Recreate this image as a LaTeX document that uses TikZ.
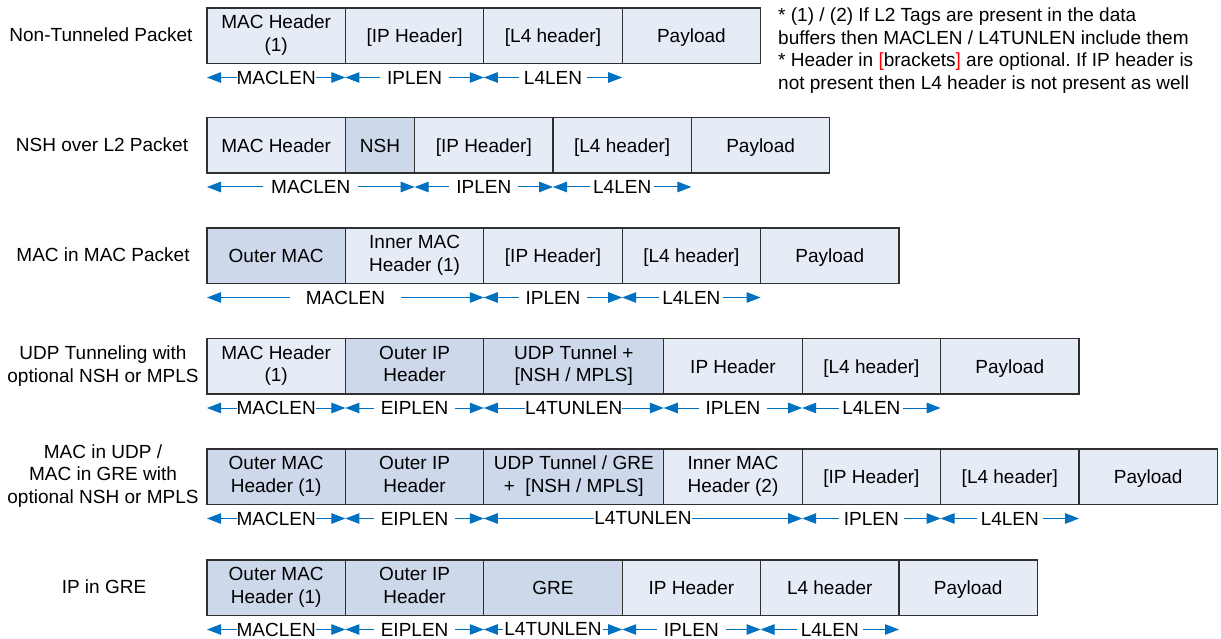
\documentclass[tikz,border=0pt]{standalone}
\usepackage{fontspec}
\setmainfont{Liberation Sans}
\usetikzlibrary{arrows.meta}
\definecolor{boxline}{HTML}{303030}
\definecolor{lightfill}{HTML}{E6ECF6}
\definecolor{darkfill}{HTML}{CDD8EB}
\definecolor{arrowblue}{HTML}{0070C0}
\definecolor{brk}{HTML}{FF0000}
\newcommand{\topstrut}{\rule{0pt}{18.5pt}}
\newcommand{\botstrut}{\rule[-4.9pt]{0pt}{0pt}}
\tikzset{
  pbox/.style={draw=boxline, line width=1.1pt, fill=lightfill, minimum height=55.5pt,
    inner sep=0pt, outer sep=0pt, align=center, anchor=north west,
    execute at begin node=\topstrut, execute at end node=\botstrut},
  dbox/.style={pbox, fill=darkfill},
  wstd/.style={minimum width=138.4pt},
  whalf/.style={minimum width=69.2pt},
  wwide/.style={minimum width=180pt},
  lenarr/.style={draw=arrowblue, line width=1pt, <->},
  lenlab/.style={fill=white, inner xsep=3pt, inner ysep=1pt, text=black},
  rowlab/.style={align=center},
}
\begin{document}
\frenchspacing
\begin{tikzpicture}[x=1pt,y=-1pt,
  >={Triangle[length=14pt,width=10.5pt]},
  every node/.style={font=\fontsize{19pt}{22.6pt}\selectfont}]
\useasboundingbox (0,0) rectangle (1221,639);

% Row labels
\node[rowlab] (l1) at (101,35) {Non-Tunneled Packet};
\node[rowlab] (l2) at (102,145) {NSH over L2 Packet};
\node[rowlab] (l3) at (103,255) {MAC in MAC Packet};
\node[rowlab] (l4) at (103,366) {UDP Tunneling with\\optional NSH or MPLS};
\node[rowlab] (l5) at (103,476) {MAC in UDP /\\MAC in GRE with\\optional NSH or MPLS};
\node[rowlab] (l6) at (104,587) {IP in GRE};

% Note
\node[anchor=north west, align=left, inner sep=0pt] (note) at (778,7.5)
  {* (1) / (2) If L2 Tags are present in the data\\
   buffers then MACLEN / L4TUNLEN include them\\
   * Header in \textcolor{brk}{[}brackets\textcolor{brk}{]} are optional. If IP header is\\
   not present then L4 header is not present as well};

% Row 1
\node[pbox,wstd] (r1a) at (207,8) {MAC Header\\(1)};
\node[pbox,wstd] (r1b) at (r1a.north east) {[IP Header]};
\node[pbox,wstd] (r1c) at (r1b.north east) {[L4 header]};
\node[pbox,wstd] (r1d) at (r1c.north east) {Payload};
\draw[lenarr] ([yshift=-14pt]r1a.south west) -- node[lenlab, inner xsep=0pt]{MACLEN} ([yshift=-14pt]r1a.south east);
\draw[lenarr] ([yshift=-14pt]r1b.south west) -- node[lenlab, inner xsep=7pt]{IPLEN} ([yshift=-14pt]r1b.south east);
\draw[lenarr] ([yshift=-14pt]r1c.south west) -- node[lenlab, inner xsep=5pt]{L4LEN} ([yshift=-14pt]r1c.south east);

% Row 2
\node[pbox,wstd] (r2a) at (207,117.5) {MAC Header};
\node[dbox,whalf] (r2b) at (r2a.north east) {NSH};
\node[pbox,wstd] (r2c) at (r2b.north east) {[IP Header]};
\node[pbox,wstd] (r2d) at (r2c.north east) {[L4 header]};
\node[pbox,wstd] (r2e) at (r2d.north east) {Payload};
\draw[lenarr] ([yshift=-14pt]r2a.south west) -- node[lenlab, inner xsep=8pt]{MACLEN} ([yshift=-14pt]r2b.south east);
\draw[lenarr] ([yshift=-14pt]r2c.south west) -- node[lenlab, inner xsep=7pt]{IPLEN} ([yshift=-14pt]r2c.south east);
\draw[lenarr] ([yshift=-14pt]r2d.south west) -- node[lenlab, inner xsep=3pt]{L4LEN} ([yshift=-14pt]r2d.south east);

% Row 3
\node[dbox,wstd] (r3a) at (207,228) {Outer MAC};
\node[pbox,wstd] (r3b) at (r3a.north east) {Inner MAC\\Header (1)};
\node[pbox,wstd] (r3c) at (r3b.north east) {[IP Header]};
\node[pbox,wstd] (r3d) at (r3c.north east) {[L4 header]};
\node[pbox,wstd] (r3e) at (r3d.north east) {Payload};
\draw[lenarr] ([yshift=-14pt]r3a.south west) -- node[lenlab, inner xsep=16pt]{MACLEN} ([yshift=-14pt]r3b.south east);
\draw[lenarr] ([yshift=-14pt]r3c.south west) -- node[lenlab, inner xsep=7pt]{IPLEN} ([yshift=-14pt]r3c.south east);
\draw[lenarr] ([yshift=-14pt]r3d.south west) -- node[lenlab, inner xsep=3pt]{L4LEN} ([yshift=-14pt]r3d.south east);

% Row 4
\node[pbox,wstd] (r4a) at (207,338.5) {MAC Header\\(1)};
\node[dbox,wstd] (r4b) at (r4a.north east) {Outer IP\\Header};
\node[dbox,wwide] (r4c) at (r4b.north east) {UDP Tunnel +\\{[NSH / MPLS]}};
\node[pbox,wstd] (r4d) at (r4c.north east) {IP Header};
\node[pbox,wstd] (r4e) at (r4d.north east) {[L4 header]};
\node[pbox,wstd] (r4f) at (r4e.north east) {Payload};
\draw[lenarr] ([yshift=-14pt]r4a.south west) -- node[lenlab, inner xsep=0pt]{MACLEN} ([yshift=-14pt]r4a.south east);
\draw[lenarr] ([yshift=-14pt]r4b.south west) -- node[lenlab, inner xsep=7pt]{EIPLEN} ([yshift=-14pt]r4b.south east);
\draw[lenarr] ([yshift=-14pt]r4c.south west) -- node[lenlab, inner xsep=0pt]{L4TUNLEN} ([yshift=-14pt]r4c.south east);
\draw[lenarr] ([yshift=-14pt]r4d.south west) -- node[lenlab, inner xsep=7pt]{IPLEN} ([yshift=-14pt]r4d.south east);
\draw[lenarr] ([yshift=-14pt]r4e.south west) -- node[lenlab, inner xsep=3pt]{L4LEN} ([yshift=-14pt]r4e.south east);

% Row 5
\node[dbox,wstd] (r5a) at (207,449) {Outer MAC\\Header (1)};
\node[dbox,wstd] (r5b) at (r5a.north east) {Outer IP\\Header};
\node[dbox,wwide] (r5c) at (r5b.north east) {UDP Tunnel / GRE\\+\ \ {[NSH / MPLS]}};
\node[pbox,wstd] (r5d) at (r5c.north east) {Inner MAC\\Header (2)};
\node[pbox,wstd] (r5e) at (r5d.north east) {[IP Header]};
\node[pbox,wstd] (r5f) at (r5e.north east) {[L4 header]};
\node[pbox,wstd] (r5g) at (r5f.north east) {Payload};
\draw[lenarr] ([yshift=-14pt]r5a.south west) -- node[lenlab, inner xsep=0pt]{MACLEN} ([yshift=-14pt]r5a.south east);
\draw[lenarr] ([yshift=-14pt]r5b.south west) -- node[lenlab, inner xsep=7pt]{EIPLEN} ([yshift=-14pt]r5b.south east);
\draw[lenarr] ([yshift=-14pt]r5c.south west) -- node[lenlab, inner xsep=0pt]{L4TUNLEN} ([yshift=-14pt]r5d.south east);
\draw[lenarr] ([yshift=-14pt]r5e.south west) -- node[lenlab, inner xsep=5pt]{IPLEN} ([yshift=-14pt]r5e.south east);
\draw[lenarr] ([yshift=-14pt]r5f.south west) -- node[lenlab, inner xsep=4pt]{L4LEN} ([yshift=-14pt]r5f.south east);

% Row 6
\node[dbox,wstd] (r6a) at (207,560) {Outer MAC\\Header (1)};
\node[dbox,wstd] (r6b) at (r6a.north east) {Outer IP\\Header};
\node[dbox,wstd] (r6c) at (r6b.north east) {GRE};
\node[pbox,wstd] (r6d) at (r6c.north east) {IP Header};
\node[pbox,wstd] (r6e) at (r6d.north east) {L4 header};
\node[pbox,wstd] (r6f) at (r6e.north east) {Payload};
\draw[lenarr] ([yshift=-14pt]r6a.south west) -- node[lenlab, inner xsep=0pt]{MACLEN} ([yshift=-14pt]r6a.south east);
\draw[lenarr] ([yshift=-14pt]r6b.south west) -- node[lenlab, inner xsep=7pt]{EIPLEN} ([yshift=-14pt]r6b.south east);
\draw[lenarr] ([yshift=-14pt]r6c.south west) -- node[lenlab, inner xsep=1pt]{L4TUNLEN} ([yshift=-14pt]r6c.south east);
\draw[lenarr] ([yshift=-14pt]r6d.south west) -- node[lenlab, inner xsep=7pt]{IPLEN} ([yshift=-14pt]r6d.south east);
\draw[lenarr] ([yshift=-14pt]r6e.south west) -- node[lenlab, inner xsep=4pt]{L4LEN} ([yshift=-14pt]r6e.south east);
\end{tikzpicture}
\end{document}
